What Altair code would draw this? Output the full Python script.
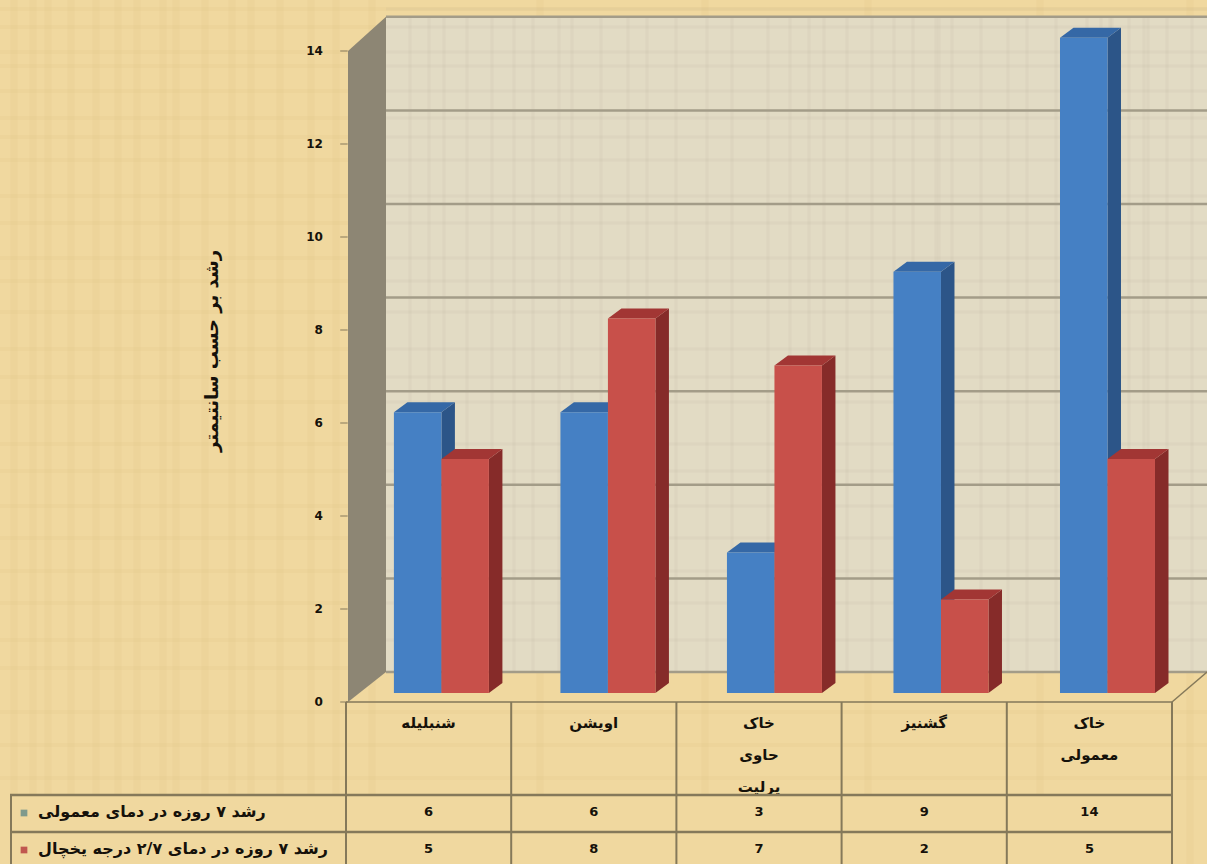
import altair as alt
import pandas as pd

categories = ["شنبلیله", "اویشن", "خاک\nحاوی\nپرلیت", "گشنیز", "خاک\nمعمولی"]
normal_growth = [6, 6, 3, 9, 14]
fridge_growth = [5, 8, 7, 2, 5]
series_labels = ["رشد ۷ روزه در دمای معمولی", "رشد ۷ روزه در دمای ۲/۷ درجه یخچال"]
axis_title = "رشد بر حسب سانتیمتر"
axis_ticks = [0, 2, 4, 6, 8, 10, 12, 14]

# Irregular papyrus fibres, in canvas pixels
fibre_columns = [14, 33, 48, 71, 96, 118, 137, 163, 176, 205, 232, 251, 280, 311, 336, 372, 540, 705, 868, 1040, 1190]
fibre_rows = [9, 27, 52, 66, 91, 118, 137, 160, 196, 223, 258, 281, 312, 349, 377, 402, 444, 471, 506, 538, 571, 603, 640, 668, 712, 745, 778]

# Canvas geometry: one x unit is one category column, one y unit is one centimetre.
W, H = 1207, 864
PX_X = 165.2
PX_Y = 46.8
X_DOMAIN = [-346 / PX_X, (W - 346) / PX_X]
Y_DOMAIN = [(693 - H) / PX_Y, 693 / PX_Y]
xs = alt.Scale(domain=X_DOMAIN, range=[0, W], nice=False, zero=False)
ys = alt.Scale(domain=Y_DOMAIN, range=[H, 0], nice=False, zero=False)

PAPER = "#f0d89f"
WALL = "#e2dbc4"
GRID = "#a39c88"
INK = "#15110a"
LINE = "#85795a"
FONT = "DejaVu Sans"


def front_y(v):
    return (46.5 * v - 9) / PX_Y


def wall_y(v):
    return v + 21 / PX_Y


WALL_X = 40 / PX_X
X_END = X_DOMAIN[1]
X_ENC = alt.X("x:Q", scale=xs, axis=None)
Y_ENC = alt.Y("y:Q", scale=ys, axis=None)


def parallelogram(rows, color):
    """Wall or side face: vertical edges, slanted top and bottom."""
    return alt.Chart(pd.DataFrame(rows)).mark_area(color=color, opacity=1, interpolate="linear").encode(
        x=X_ENC, y=Y_ENC, y2="y2:Q", detail="id:N"
    )


def lid(rows, color):
    """Top face of a bar: horizontal edges, slanted sides."""
    return alt.Chart(pd.DataFrame(rows)).mark_area(color=color, opacity=1, orient="horizontal", interpolate="linear").encode(
        y=Y_ENC, x=X_ENC, x2="x2:Q", detail="id:N"
    )


def segments(rows, color, width, opacity=1.0):
    return alt.Chart(pd.DataFrame(rows)).mark_rule(color=color, strokeWidth=width, opacity=opacity).encode(
        x=X_ENC, x2="x2:Q", y=Y_ENC, y2="y2:Q"
    )


layers = []

# Paper fibres behind everything
layers.append(
    alt.Chart(pd.DataFrame({"x": [X_DOMAIN[0] + c / PX_X for c in fibre_columns]}))
    .mark_rule(color="#c9a765", opacity=0.08, strokeWidth=7)
    .encode(x=X_ENC)
)
layers.append(
    alt.Chart(pd.DataFrame({"y": [Y_DOMAIN[1] - r / PX_Y for r in fibre_rows]}))
    .mark_rule(color="#c9a765", opacity=0.07, strokeWidth=4)
    .encode(y=Y_ENC)
)

# Back wall, its fibres and gridlines
layers.append(
    alt.Chart(pd.DataFrame([{"x": WALL_X, "x2": X_END, "y": wall_y(0), "y2": wall_y(14)}]))
    .mark_rect(color=WALL)
    .encode(x=X_ENC, x2="x2:Q", y=Y_ENC, y2="y2:Q")
)
wall_fibres = [{"x": WALL_X + (c + 10) / PX_X, "x2": WALL_X + (c + 10) / PX_X, "y": wall_y(0), "y2": wall_y(14)} for c in fibre_columns + [c + 380 for c in fibre_columns[:16]] + [c + 700 for c in fibre_columns[:16]]]
wall_fibres += [{"x": WALL_X, "x2": X_END, "y": Y_DOMAIN[1] - r / PX_Y, "y2": Y_DOMAIN[1] - r / PX_Y} for r in fibre_rows[:-4]]
layers.append(segments(wall_fibres, "#b5ab90", 3, 0.10))
layers.append(segments([{"x": WALL_X, "x2": X_END, "y": wall_y(v), "y2": wall_y(v)} for v in axis_ticks], GRID, 2.5))

# Side wall
layers.append(
    parallelogram(
        [
            {"id": 0, "x": 2 / PX_X, "y": front_y(14), "y2": front_y(0)},
            {"id": 0, "x": WALL_X, "y": wall_y(14), "y2": wall_y(0)},
        ],
        "#8d8674",
    )
)

# Floor edges
layers.append(
    segments(
        [
            {"x": 0, "x2": 5, "y": front_y(0), "y2": front_y(0)},
            {"x": 5, "x2": X_END, "y": front_y(0), "y2": wall_y(0)},
        ],
        LINE,
        1.5,
    )
)

# Bars: side, top and front faces for each series
BAR_W = 47.5 / PX_X
DEPTH_X = 13.5 / PX_X
DEPTH_Y = 10 / PX_Y
for offset, values, (front, side, top) in [
    (0, normal_growth, ("#4580c4", "#2c5588", "#3568a6")),
    (1, fridge_growth, ("#c8504a", "#862b29", "#a23634")),
]:
    front_rows, side_rows, top_rows = [], [], []
    for i, v in enumerate(values):
        left = 0.29 + 1.008 * i + offset * BAR_W
        right = left + BAR_W
        front_rows.append({"x": left, "x2": right, "y": 0, "y2": v})
        side_rows += [
            {"id": i, "x": right, "y": v, "y2": 0},
            {"id": i, "x": right + DEPTH_X, "y": v + DEPTH_Y, "y2": DEPTH_Y},
        ]
        top_rows += [
            {"id": i, "y": v, "x": left, "x2": right},
            {"id": i, "y": v + DEPTH_Y, "x": left + DEPTH_X, "x2": right + DEPTH_X},
        ]
    layers.append(parallelogram(side_rows, side))
    layers.append(lid(top_rows, top))
    layers.append(
        alt.Chart(pd.DataFrame(front_rows)).mark_rect(color=front).encode(x=X_ENC, x2="x2:Q", y=Y_ENC, y2="y2:Q")
    )

# Value axis: ticks, labels and title
layers.append(segments([{"x": -0.035, "x2": 0.01, "y": front_y(v), "y2": front_y(v)} for v in axis_ticks], LINE, 1))
tick_df = pd.DataFrame({"x": -0.14, "y": [front_y(v) for v in axis_ticks], "t": [str(v) for v in axis_ticks]})
layers.append(
    alt.Chart(tick_df)
    .mark_text(font=FONT, fontSize=12, fontWeight="bold", color=INK, align="right", baseline="middle")
    .encode(x=X_ENC, y=Y_ENC, text="t:N")
)
layers.append(
    alt.Chart(pd.DataFrame({"t": [axis_title]}))
    .mark_text(font=FONT, fontSize=18, fontWeight="bold", color=INK, angle=270, align="center", baseline="middle")
    .encode(x=alt.value(213), y=alt.value(351), text="t:N")
)

# Data table under the plot; the category cell clips whatever overflows its bottom edge
layers.append(
    alt.Chart(pd.DataFrame({"x": [i + 0.5 for i in range(5)], "t": categories}))
    .mark_text(font=FONT, fontSize=15, fontWeight="bold", color=INK, lineBreak="\n", lineHeight=32, baseline="top", align="center")
    .encode(x=X_ENC, y=alt.value(716), text="t:N")
)
layers.append(
    alt.Chart(pd.DataFrame({"x": [X_DOMAIN[0] + 10 / PX_X], "x2": [5]}))
    .mark_rect(color=PAPER)
    .encode(x=X_ENC, x2="x2:Q", y=alt.value(795), y2=alt.value(864))
)
cols = list(range(6))
layers.append(
    alt.Chart(pd.DataFrame({"x": cols}))
    .mark_rule(color=LINE, strokeWidth=2)
    .encode(x=X_ENC, y=alt.value(702), y2=alt.value(864))
)
layers.append(
    alt.Chart(pd.DataFrame({"x": [X_DOMAIN[0] + 11 / PX_X]}))
    .mark_rule(color=LINE, strokeWidth=2)
    .encode(x=X_ENC, y=alt.value(795), y2=alt.value(864))
)
for top_edge in [795, 832]:
    layers.append(
        alt.Chart(pd.DataFrame({"x": [X_DOMAIN[0] + 10 / PX_X], "x2": [5]}))
        .mark_rule(color=LINE, strokeWidth=2.5)
        .encode(x=X_ENC, x2="x2:Q", y=alt.value(top_edge))
    )
for row_y, values, label, key in [
    (812, normal_growth, series_labels[0], "#7f9a8c"),
    (849, fridge_growth, series_labels[1], "#c0574f"),
]:
    layers.append(
        alt.Chart(pd.DataFrame({"x": [i + 0.5 for i in range(5)], "t": [str(v) for v in values]}))
        .mark_text(font=FONT, fontSize=13, fontWeight="bold", color=INK, align="center", baseline="middle")
        .encode(x=X_ENC, y=alt.value(row_y), text="t:N")
    )
    layers.append(
        alt.Chart(pd.DataFrame({"t": [label]}))
        .mark_text(font=FONT, fontSize=16, fontWeight="bold", color=INK, align="left", baseline="middle")
        .encode(x=alt.value(38), y=alt.value(row_y), text="t:N")
    )
    layers.append(
        alt.Chart(pd.DataFrame({"k": [label]}))
        .mark_square(color=key, size=45, opacity=1)
        .encode(x=alt.value(24), y=alt.value(row_y + 1))
    )

chart = (
    alt.layer(*layers)
    .properties(width=W, height=H, background=PAPER, padding=0, autosize=alt.AutoSizeParams(type="none"))
    .configure_view(stroke=None)
)
chart.save("out.html", embed_options={"renderer": "svg", "actions": False})
